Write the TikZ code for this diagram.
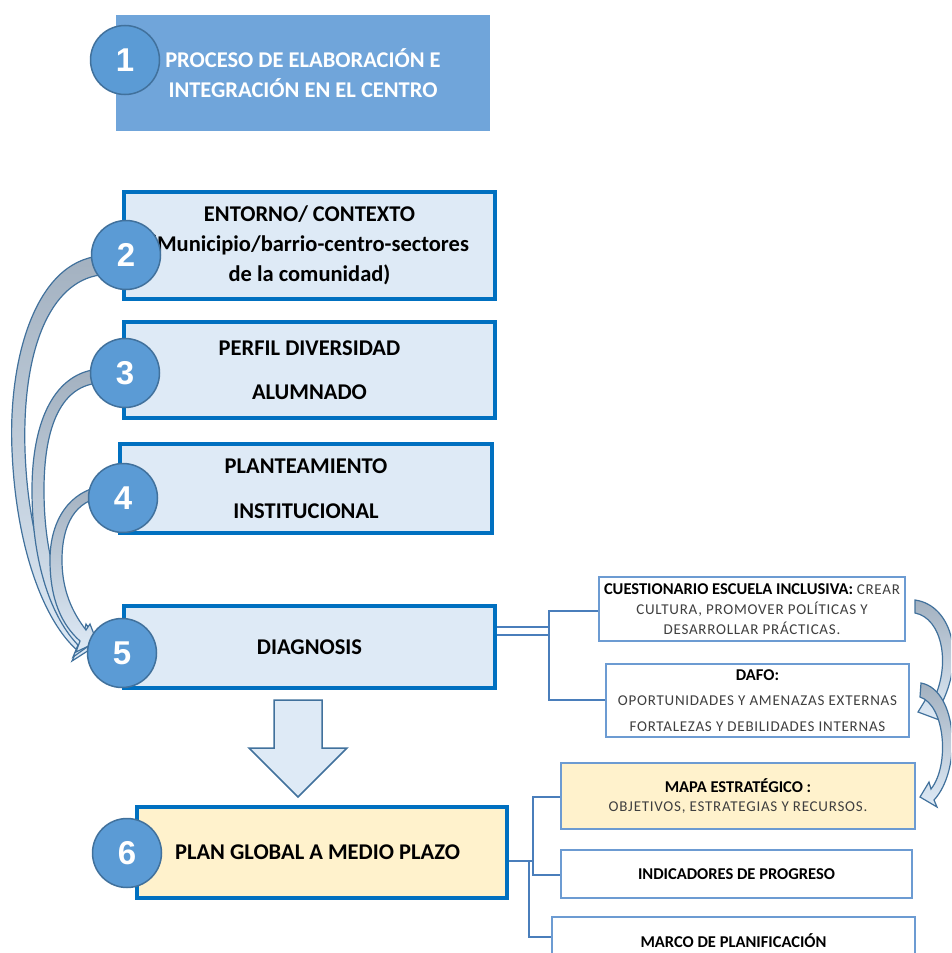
\documentclass[tikz,border=0pt]{standalone}
\usepackage{fontspec}
\setmainfont{Carlito}
\newfontfamily\numfont{Liberation Sans}
\newfontfamily\spc{Carlito}[LetterSpace=5]
\usetikzlibrary{calc}
\definecolor{bbord}{HTML}{0070C0}
\definecolor{bfill}{HTML}{DEEAF6}
\definecolor{yfill}{HTML}{FFF2CC}
\definecolor{cfill}{HTML}{5B9BD5}
\definecolor{cbord}{HTML}{41719C}
\definecolor{hfill}{HTML}{70A5DA}
\definecolor{sbord}{HTML}{6C9BD2}
\definecolor{lcol}{HTML}{4A7EBB}
\definecolor{agray}{HTML}{A3B1C0}
\definecolor{txt}{HTML}{3F3F3F}
\newcommand{\rg}[1]{{\color{txt}\spc\fontsize{15}{15}\selectfont #1}}
\begin{document}
\begin{tikzpicture}[x=1pt,y=-1pt,
  bigbox/.style={draw=bbord, line width=4pt, fill=bfill, inner sep=0pt, align=center,
     font=\bfseries\fontsize{22.5}{30}\selectfont},
  num/.style={circle, draw=cbord, line width=1.5pt, fill=cfill, minimum size=69pt, inner sep=0pt,
     text=white, font=\numfont\bfseries\fontsize{33}{33}\selectfont},
  smallbox/.style={draw=sbord, line width=2pt, fill=white, inner sep=0pt, align=center,
     font=\fontsize{16.5}{20}\selectfont},
  conn/.style={draw=lcol, line width=2pt},
  barrow/.style={draw=cbord, line width=1.2pt, top color=agray, bottom color=bfill},
  downarrow/.style={draw=cbord, line width=1.5pt, fill=bfill, line join=miter}]
\useasboundingbox (0,0) rectangle (951,953);
\clip (0,0) rectangle (951,953);

% header box
\node[fill=hfill, minimum width=374pt, minimum height=116pt, inner sep=0pt, align=center,
  text=white, font=\bfseries\fontsize{22.5}{30}\selectfont] (head) at (303,73)
  {PROCESO DE ELABORACIÓN E\\INTEGRACIÓN EN EL CENTRO};

% main boxes
\node[bigbox, minimum width=371pt, minimum height=107pt] (entorno) at (309.5,245.5)
  {ENTORNO/ CONTEXTO\\(Municipio/barrio-centro-sectores\\de la comunidad)};
\node[bigbox, minimum width=371pt, minimum height=96pt, font=\bfseries\fontsize{22.5}{44}\selectfont] (perfil) at (309.5,370)
  {PERFIL DIVERSIDAD\\ALUMNADO};
\node[bigbox, minimum width=372pt, minimum height=89pt, font=\bfseries\fontsize{22.5}{45}\selectfont] (plant) at (306,488.5)
  {PLANTEAMIENTO\\INSTITUCIONAL};
\node[bigbox, minimum width=371pt, minimum height=82pt] (diag) at (309.5,647)
  {DIAGNOSIS};
\node[bigbox, fill=yfill, minimum width=370pt, minimum height=91pt] (plan) at (322,852.5)
  {\hspace*{-9pt}PLAN GLOBAL A MEDIO PLAZO};

% right boxes
\node[smallbox, minimum width=306pt, minimum height=64pt] (cues) at (752,609)
  {\textbf{CUESTIONARIO ESCUELA INCLUSIVA:} \rg{CREAR}\\
   \rg{CULTURA, PROMOVER POLÍTICAS Y}\\
   \rg{DESARROLLAR PRÁCTICAS.}};
\node[smallbox, minimum width=303pt, minimum height=73pt, font=\fontsize{16.5}{25.5}\selectfont] (dafo) at (757.5,700.5)
  {\textbf{DAFO:}\\
   \rg{OPORTUNIDADES Y AMENAZAS EXTERNAS}\\
   \rg{FORTALEZAS Y DEBILIDADES INTERNAS}};
\node[smallbox, fill=yfill, minimum width=354pt, minimum height=66pt, font=\fontsize{16.5}{19}\selectfont] (mapa) at (738,796)
  {\textbf{MAPA ESTRATÉGICO :}\\\rg{OBJETIVOS, ESTRATEGIAS Y RECURSOS.}};
\node[smallbox, minimum width=351pt, minimum height=48pt] (indic) at (736.5,874)
  {\textbf{INDICADORES DE PROGRESO}};
\node[smallbox, minimum width=363pt, minimum height=48pt, anchor=north] (marco) at (733.5,916)
  {\textbf{MARCO DE PLANIFICACIÓN}};

% connectors
\coordinate (jd) at (549,0);
\coordinate (jp) at (533,0);
\coordinate (jq) at (529,0);
\draw[conn] (diag.east |- 0,627) -- (jd |- 0,627);
\draw[conn] (diag.east |- 0,635) -- (jd |- 0,635);
\draw[conn] (cues.west |- 0,611) -- (jd |- 0,611) -- (jd |- 0,700) -- (dafo.west |- 0,700);
\draw[conn] (plan.east |- 0,861) -- (jp |- 0,861);
\draw[conn] (mapa.west |- 0,797) -- (jp |- 0,797) -- (jp |- 0,875) -- (indic.west |- 0,875);
\draw[conn] (jq |- 0,861) -- (jq |- 0,937) -- (marco.west |- 0,937);

% down arrow
\path[downarrow] (274,700) -- (322,700) -- (322,748) -- (347,748) -- (298,797) -- (249,748) -- (274,748) -- cycle;

% left curved arrows
\path[barrow] (100,256) .. controls (35,262) and (8,360) .. (12,450) .. controls (16,550) and (45,622) .. (77,650)
  -- (72,661) -- (100,643) -- (87,626) -- (84,633) .. controls (52,606) and (28,540) .. (25,450)
  .. controls (22,350) and (50,282) .. (100,275) -- cycle;
\path[barrow] (100,369) .. controls (55,372) and (32,420) .. (32,490) .. controls (32,565) and (52,618) .. (78,645)
  -- (73,657) -- (97,640) -- (86,624) -- (84,632) .. controls (62,605) and (44,560) .. (44,490)
  .. controls (44,425) and (62,385) .. (100,383) -- cycle;
\path[barrow] (104,486) .. controls (70,490) and (50,520) .. (50,560) .. controls (50,600) and (62,625) .. (80,641)
  -- (76,652) -- (97,642) -- (90,624) -- (86,630) .. controls (72,612) and (62,590) .. (62,560)
  .. controls (62,525) and (75,500) .. (104,497) -- cycle;

% right curved arrows
\path[barrow] (915,600) .. controls (952,605) and (968,660) .. (937,712) -- (942,721) -- (918,712)
  -- (929,694) -- (932,703) .. controls (952,665) and (942,618) .. (915,613) -- cycle;
\path[barrow] (921,683) .. controls (958,690) and (962,770) .. (934,800) -- (937,807) -- (920,797)
  -- (929,782) -- (931,789) .. controls (950,765) and (945,705) .. (920,697) -- cycle;

% circles
\node[num] (n1) at (125,60) {1};
\node[num] (n2) at (126,255) {2};
\node[num] (n3) at (125,373) {3};
\node[num] (n4) at (123,498) {4};
\node[num] (n5) at (122,653) {5};
\node[num] (n6) at (127,853) {6};
\end{tikzpicture}
\end{document}
